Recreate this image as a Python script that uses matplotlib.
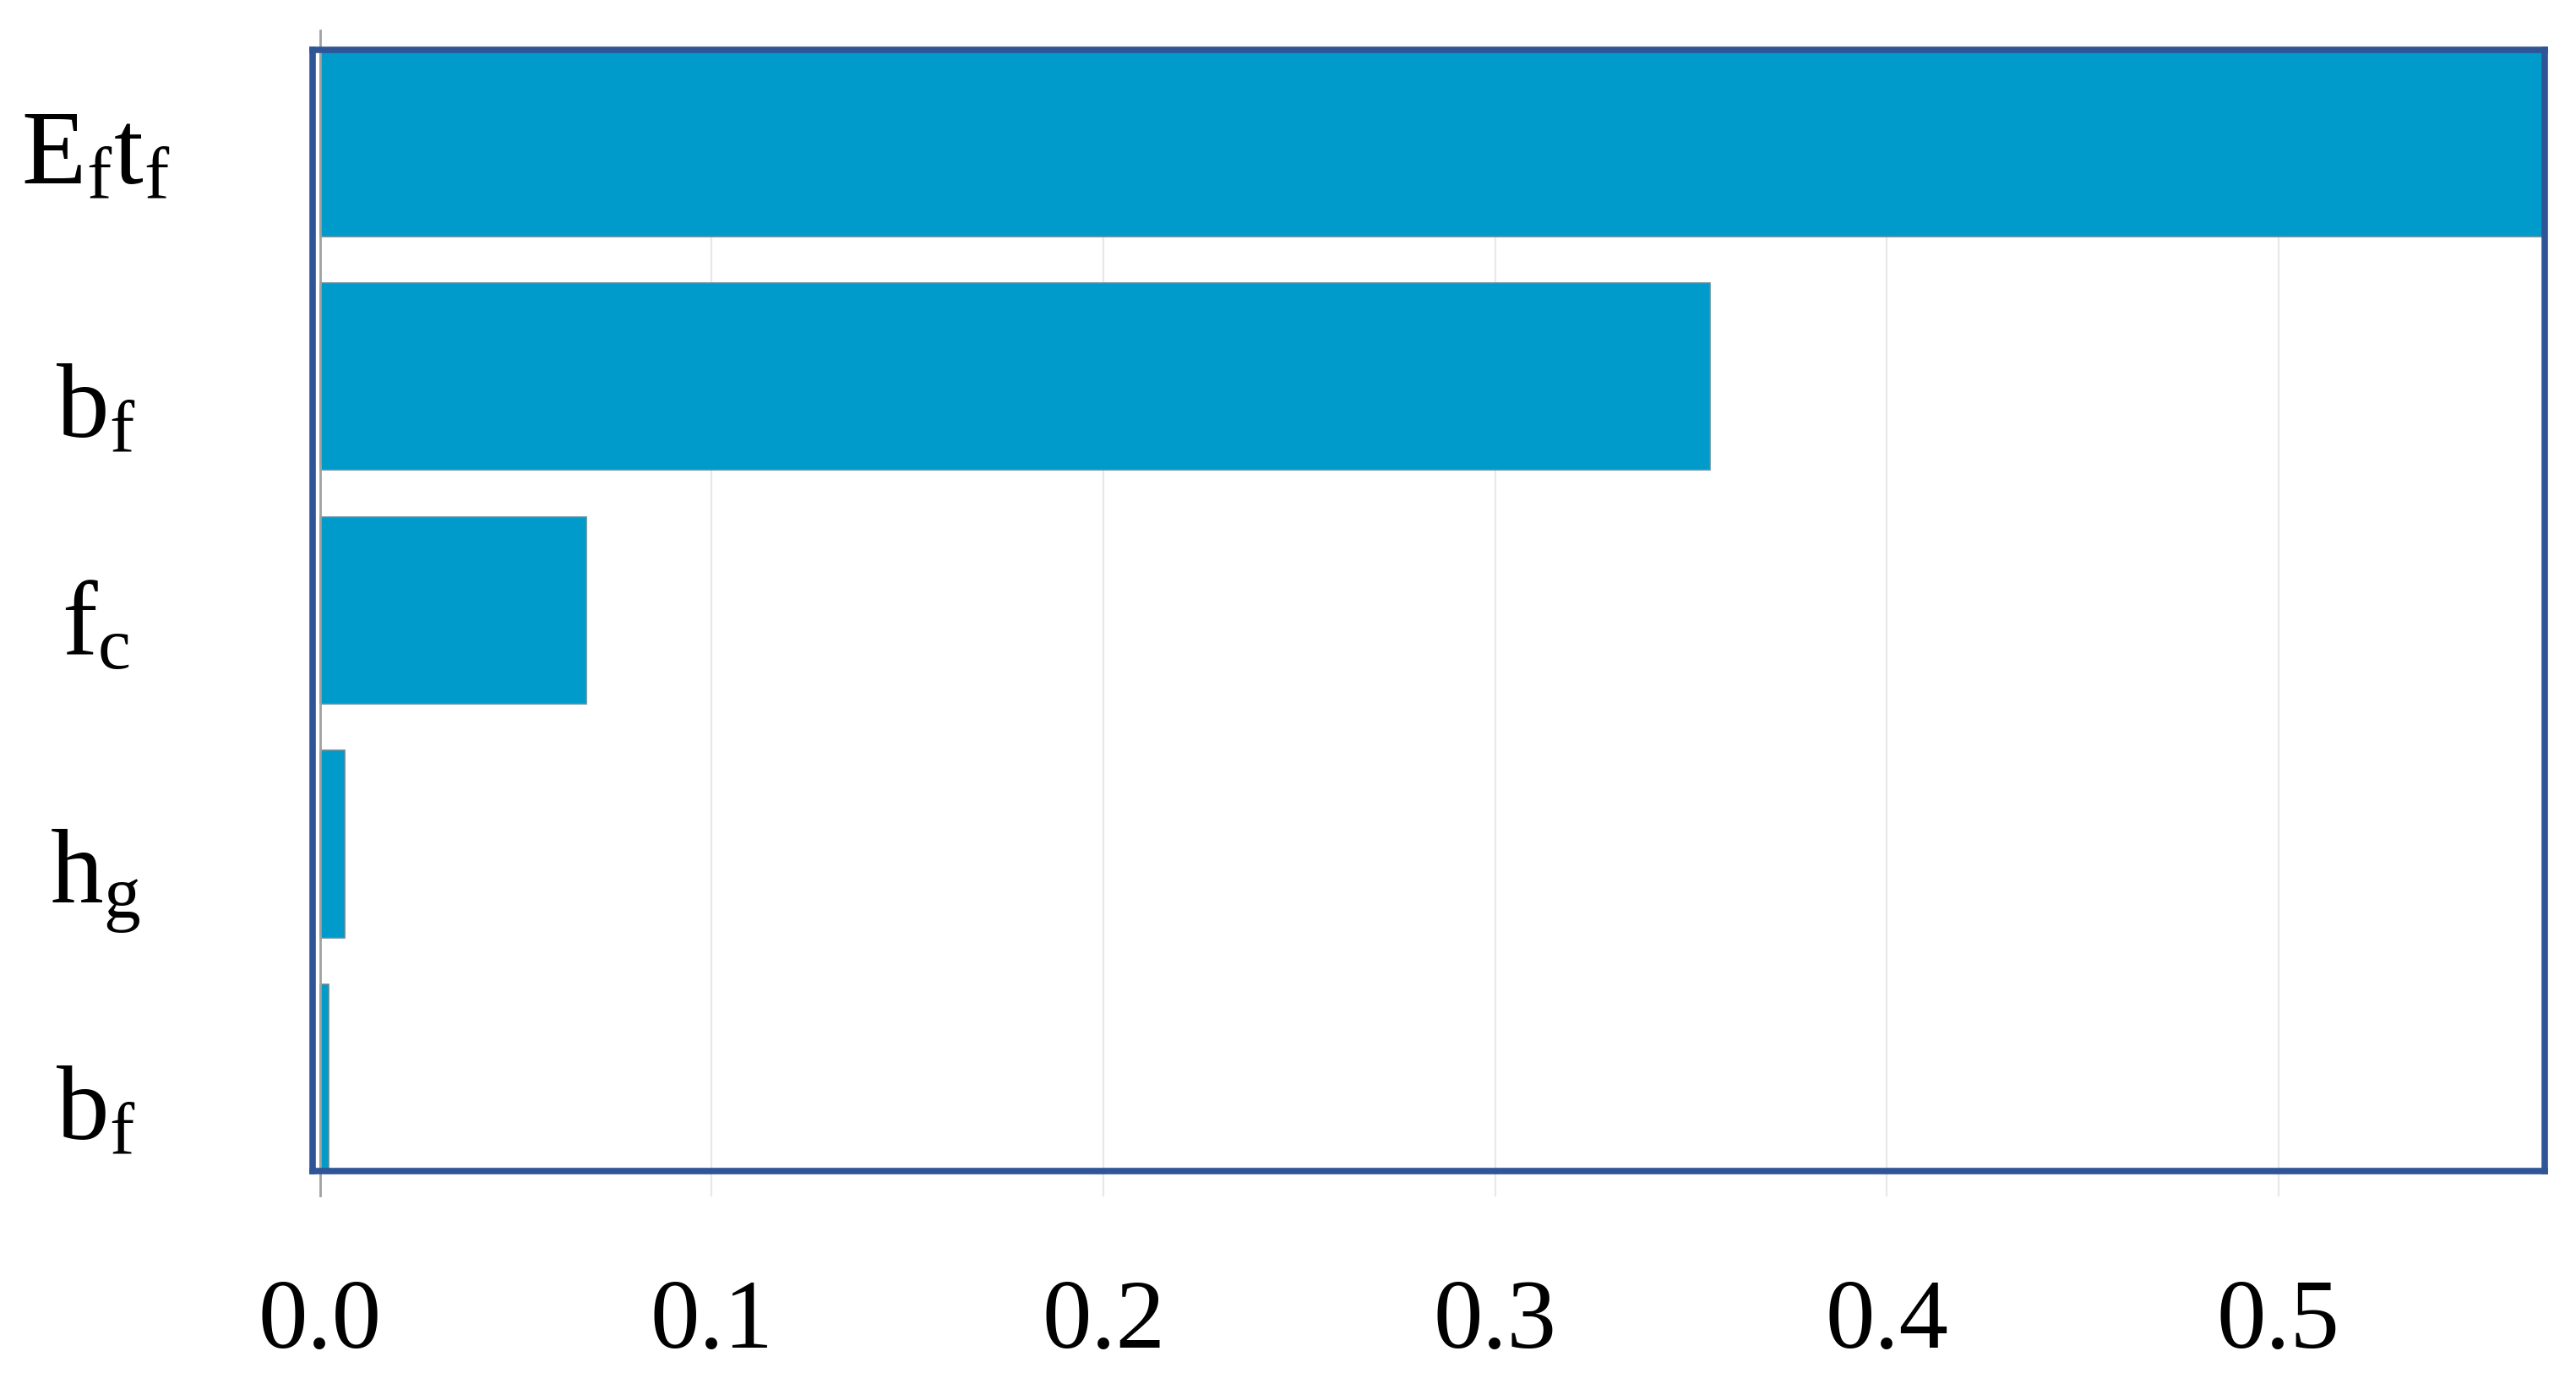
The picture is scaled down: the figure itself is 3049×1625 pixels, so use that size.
import numpy as np
import matplotlib.pyplot as plt
import matplotlib.transforms as mtransforms

# feature importance values, top to bottom
labels = [r'$\mathrm{E_f t_f}$', r'$\mathrm{b_f}$', r'$\mathrm{f_c}$', r'$\mathrm{h_g}$', r'$\mathrm{b_f}$']
values = [0.568, 0.355, 0.068, 0.0063, 0.0021]
xticks = [0.0, 0.1, 0.2, 0.3, 0.4, 0.5]
xticklabels = ['0.0', '0.1', '0.2', '0.3', '0.4', '0.5']

plt.rcParams['mathtext.fontset'] = 'custom'
plt.rcParams['mathtext.rm'] = 'Liberation Serif'
plt.rcParams['mathtext.it'] = 'Liberation Serif:italic'
plt.rcParams['font.family'] = ['Liberation Serif', 'DejaVu Serif']

fig = plt.figure(figsize=(30.49, 16.25), dpi=100)
ax = fig.add_axes([0.1214, 0.147, 0.8664, 0.817])

y = np.arange(len(values))
ax.barh(y, values, height=0.8, color='#009BCB', edgecolor='#5E8C9C', linewidth=1.2, zorder=3)

ax.set_xlim(-0.0019, 0.568)
ax.set_ylim(len(values) - 0.6, -0.4)

# light vertical grid lines poking slightly below the frame
for t in xticks[1:]:
    ax.axvline(t, ymin=-0.022, ymax=1.0, color='#E8E8E8', linewidth=1.6, zorder=1, clip_on=False)
# gray zero line, longer than the frame
ax.axvline(0, ymin=-0.022, ymax=1.017, color='#A0A0A0', linewidth=2.0, zorder=4, clip_on=False)

ax.set_xticks(xticks)
ax.set_xticklabels(xticklabels, fontsize=84)
ax.set_yticks(y)
ax.set_yticklabels(labels, fontsize=90, ha='center')
ax.tick_params(axis='x', length=0, pad=92)
ax.tick_params(axis='y', length=0, pad=185)

# labels sit a little below the bar centres in the original
drops = [3, 20, 6, 18, 21]
for lab, d in zip(ax.get_yticklabels(), drops):
    lab.set_transform(lab.get_transform() + mtransforms.ScaledTranslation(0, -d / 72, fig.dpi_scale_trans))

for s in ax.spines.values():
    s.set_color('#2F5597')
    s.set_linewidth(5.5)
    s.set_zorder(5)

fig.savefig('out.png', dpi=100, facecolor='white')
